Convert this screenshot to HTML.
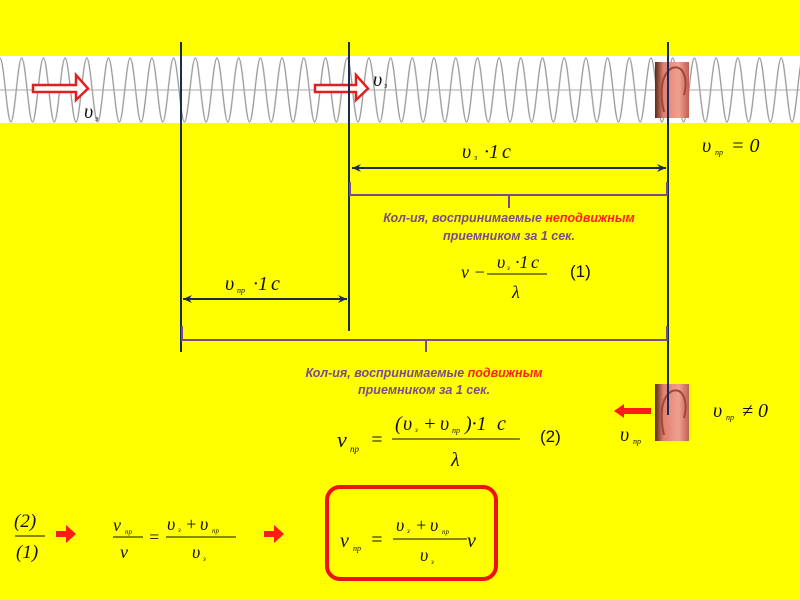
<!DOCTYPE html>
<html><head><meta charset="utf-8"><style>
html,body{margin:0;padding:0;background:#ffff00;}
svg{display:block}
.m{font-family:"Liberation Serif","DejaVu Serif",serif;font-style:italic;fill:#111}
.t{font-family:"Liberation Sans",sans-serif;font-weight:bold;font-style:italic;font-size:12.5px;fill:#7a4a8a}
</style></head><body>
<svg width="800" height="600" viewBox="0 0 800 600" xmlns="http://www.w3.org/2000/svg">
<defs>
<pattern id="w" x="0" y="0" width="21.7" height="600" patternUnits="userSpaceOnUse">
<path d="M0,58 C3.9,58 6.95,122 10.85,122 C14.75,122 17.8,58 21.7,58" fill="none" stroke="#9a9a9a" stroke-width="1.3"/>
</pattern>
<marker id="a" markerWidth="10" markerHeight="10" refX="9" refY="5" orient="auto-start-reverse" markerUnits="userSpaceOnUse"><path d="M0,1 L9,5 L0,9 L3,5 Z" fill="#1a2a50"/></marker>
<linearGradient id="ear" x1="0" x2="1"><stop offset="0" stop-color="#5a2a18"/><stop offset="0.25" stop-color="#e08070"/><stop offset="0.7" stop-color="#f0a090"/><stop offset="1" stop-color="#c06050"/></linearGradient>
</defs>
<rect width="800" height="600" fill="#ffff00"/>
<rect x="0" y="56" width="800" height="67" fill="#fff"/>
<rect x="0" y="56" width="800" height="67" fill="url(#w)"/>
<line x1="0" y1="90" x2="800" y2="90" stroke="#aaa" stroke-width="1"/>
<path d="M33,45 L33,52 L76,52 L76,60 L88,48.5 L76,35 L76,45 Z" transform="translate(0,40)" fill="#fff" stroke="#e02020" stroke-width="2.5"/>
<path d="M315,45 L315,52 L356,52 L356,60 L368,48.5 L356,35 L356,45 Z" transform="translate(0,40)" fill="#fff" stroke="#e02020" stroke-width="2.5"/>
<text x="84" y="118" class="m" font-size="20">υ</text><text x="95" y="121" class="m" font-size="8">з</text>
<text x="373" y="86" class="m" font-size="20">υ</text><text x="384" y="88" class="m" font-size="8">з</text>
<rect x="655" y="62" width="34" height="56" fill="url(#ear)"/>
<path d="M664,112 C660,95 660,75 672,68 C684,64 688,80 684,95" fill="none" stroke="#a04838" stroke-width="2"/>
<rect x="655" y="384" width="34" height="57" fill="url(#ear)"/>
<path d="M664,435 C660,418 660,398 672,391 C684,387 688,403 684,418" fill="none" stroke="#a04838" stroke-width="2"/>
<line x1="181" y1="42" x2="181" y2="352" stroke="#1a2a50" stroke-width="2"/>
<line x1="349" y1="42" x2="349" y2="331" stroke="#1a2a50" stroke-width="2"/>
<line x1="668" y1="42" x2="668" y2="415" stroke="#1a2a50" stroke-width="2"/>
<line x1="352" y1="168" x2="666" y2="168" stroke="#1a2a50" stroke-width="2" marker-start="url(#a)" marker-end="url(#a)"/>
<line x1="183" y1="299" x2="347" y2="299" stroke="#1a2a50" stroke-width="2" marker-start="url(#a)" marker-end="url(#a)"/>
<text x="462" y="158" class="m" font-size="20">υ</text><text x="474" y="160" class="m" font-size="8">з</text><text x="484" y="158" class="m" font-size="20" font-style="normal">·1</text><text x="502" y="158" class="m" font-size="20">c</text>
<text x="225" y="290" class="m" font-size="20">υ</text><text x="237" y="293" class="m" font-size="8">пр</text><text x="253" y="290" class="m" font-size="20" font-style="normal">·1</text><text x="271" y="290" class="m" font-size="20">c</text>
<path d="M350,182 V195 H667 V182 M509,195 V208" fill="none" stroke="#7a4a8a" stroke-width="2"/>
<path d="M182,326 V340 H667 V326 M426,340 V352" fill="none" stroke="#7a4a8a" stroke-width="2"/>
<text x="509" y="222" text-anchor="middle" class="t">Кол-ия, воспринимаемые <tspan fill="#ff2020">неподвижным</tspan></text>
<text x="509" y="240" text-anchor="middle" class="t">приемником за 1 сек.</text>
<text x="424" y="377" text-anchor="middle" class="t">Кол-ия, воспринимаемые  <tspan fill="#ff2020">подвижным</tspan></text>
<text x="424" y="394" text-anchor="middle" class="t">приемником за 1 сек.</text>
<text x="461" y="278" class="m" font-size="18">ν −</text>
<line x1="487" y1="274" x2="547" y2="274" stroke="#111" stroke-width="1"/>
<text x="497" y="268" class="m" font-size="18">υ</text><text x="507" y="270" class="m" font-size="7">з</text><text x="515" y="268" class="m" font-size="18" font-style="normal">·1</text><text x="531" y="268" class="m" font-size="18">c</text>
<text x="512" y="298" class="m" font-size="18">λ</text>
<text x="570" y="277" font-family="Liberation Sans,sans-serif" font-size="17" fill="#111">(1)</text>
<text x="337" y="447" class="m" font-size="22">ν</text><text x="350" y="452" class="m" font-size="9">пр</text><text x="370" y="446" class="m" font-size="20" font-style="normal">=</text>
<line x1="392" y1="439" x2="520" y2="439" stroke="#111" stroke-width="1"/>
<text x="395" y="430" class="m" font-size="20" font-style="normal">(</text><text x="403" y="430" class="m" font-size="20">υ</text><text x="415" y="432" class="m" font-size="7">з</text><text x="423" y="430" class="m" font-size="20" font-style="normal">+</text><text x="440" y="430" class="m" font-size="20">υ</text><text x="452" y="433" class="m" font-size="8">пр</text><text x="465" y="430" class="m" font-size="20" font-style="normal">)·1</text><text x="497" y="430" class="m" font-size="20">c</text>
<text x="451" y="466" class="m" font-size="20">λ</text>
<text x="540" y="442" font-family="Liberation Sans,sans-serif" font-size="17" fill="#111">(2)</text>
<path d="M614,411 L624,404 L624,408 L651,408 L651,414 L624,414 L624,418 Z" fill="#ff1a1a"/>
<text x="620" y="441" class="m" font-size="20">υ</text><text x="633" y="444" class="m" font-size="8">пр</text>
<text x="713" y="417" class="m" font-size="20">υ</text><text x="726" y="420" class="m" font-size="8">пр</text><text x="742" y="417" class="m" font-size="20" font-style="normal">≠ 0</text>
<text x="702" y="152" class="m" font-size="20">υ</text><text x="715" y="155" class="m" font-size="8">пр</text><text x="731" y="152" class="m" font-size="20" font-style="normal">= 0</text>
<text x="14" y="527" class="m" font-size="19" font-style="normal">(2)</text>
<line x1="15" y1="536" x2="45" y2="536" stroke="#111" stroke-width="1"/>
<text x="16" y="558" class="m" font-size="19" font-style="normal">(1)</text>
<path d="M56,535 h10 v-6 l10,9 l-10,9 v-6 h-10 z" fill="#ff1a1a" transform="translate(0,-4)"/>
<text x="113" y="531" class="m" font-size="18">ν</text><text x="125" y="534" class="m" font-size="7">пр</text>
<line x1="113" y1="537" x2="143" y2="537" stroke="#111" stroke-width="1"/>
<text x="120" y="558" class="m" font-size="18">ν</text>
<text x="148" y="543" class="m" font-size="18" font-style="normal">=</text>
<line x1="166" y1="537" x2="236" y2="537" stroke="#111" stroke-width="1"/>
<text x="167" y="530" class="m" font-size="18">υ</text><text x="178" y="532" class="m" font-size="7">з</text><text x="185" y="530" class="m" font-size="18" font-style="normal">+</text><text x="200" y="530" class="m" font-size="18">υ</text><text x="212" y="533" class="m" font-size="7">пр</text>
<text x="192" y="558" class="m" font-size="18">υ</text><text x="203" y="561" class="m" font-size="7">з</text>
<path d="M264,535 h10 v-6 l10,9 l-10,9 v-6 h-10 z" fill="#ff1a1a" transform="translate(0,-4)"/>
<rect x="327" y="487" width="169" height="92" rx="13" fill="none" stroke="#ee1111" stroke-width="4"/>
<text x="340" y="547" class="m" font-size="20">ν</text><text x="353" y="551" class="m" font-size="8">пр</text><text x="370" y="546" class="m" font-size="20" font-style="normal">=</text>
<line x1="393" y1="539" x2="467" y2="539" stroke="#111" stroke-width="1"/>
<text x="396" y="531" class="m" font-size="18">υ</text><text x="407" y="533" class="m" font-size="7">з</text><text x="415" y="531" class="m" font-size="18" font-style="normal">+</text><text x="430" y="531" class="m" font-size="18">υ</text><text x="442" y="534" class="m" font-size="7">пр</text>
<text x="467" y="547" class="m" font-size="20">ν</text>
<text x="420" y="561" class="m" font-size="18">υ</text><text x="431" y="564" class="m" font-size="7">з</text>
</svg>
</body></html>
